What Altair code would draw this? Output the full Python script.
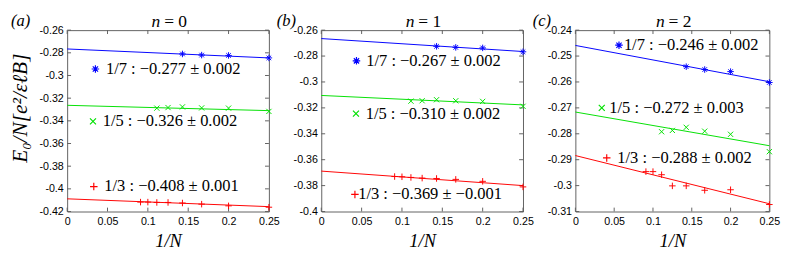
import altair as alt
import pandas as pd

# ---------------- data ----------------
invN_17 = [1/7, 1/6, 1/5, 1/4]
invN_15 = [1/9, 1/8, 1/7, 1/6, 1/5, 1/4]
invN_13 = [1/11, 1/10, 1/9, 1/8, 1/7, 1/6, 1/5, 1/4]
fit_x = [0.0, 0.25]

x_ticks = [0, 0.05, 0.1, 0.15, 0.2, 0.25]

# panel (a): n = 0
a_E17 = [-0.2810, -0.2820, -0.2823, -0.2845]
a_E15 = [-0.3288, -0.3283, -0.3277, -0.3286, -0.3288, -0.3317]
a_E13 = [-0.4117, -0.4117, -0.4120, -0.4120, -0.4125, -0.4135, -0.4150, -0.4162]
a_fit17 = [-0.2766, -0.2845]
a_fit15 = [-0.3263, -0.3310]
a_fit13 = [-0.4088, -0.4157]
a_labels = ["1/7 : \u22120.277 \u00b1 0.002", "1/5 : \u22120.326 \u00b1 0.002", "1/3 : \u22120.408 \u00b1 0.001"]
a_yticks = [-0.42, -0.40, -0.38, -0.36, -0.34, -0.32, -0.30, -0.28, -0.26]

# panel (b): n = 1
b_E17 = [-0.2725, -0.2733, -0.2737, -0.2767]
b_E15 = [-0.3148, -0.3145, -0.3137, -0.3145, -0.3150, -0.3188]
b_E13 = [-0.3730, -0.3732, -0.3737, -0.3742, -0.3745, -0.3752, -0.3767, -0.3810]
b_fit17 = [-0.2665, -0.2765]
b_fit15 = [-0.3104, -0.3177]
b_fit13 = [-0.3688, -0.3800]
b_labels = ["1/7 : \u22120.267 \u00b1 0.002", "1/5 : \u22120.310 \u00b1 0.002", "1/3 : \u22120.369 \u00b1 \u22120.001"]
b_yticks = [-0.40, -0.38, -0.36, -0.34, -0.32, -0.30, -0.28, -0.26]

# panel (c): n = 2
c_E17 = [-0.2541, -0.2552, -0.2560, -0.2602]
c_E15 = [-0.2792, -0.2787, -0.2775, -0.2790, -0.2802, -0.2869]
c_E13 = [-0.2946, -0.2946, -0.2958, -0.3001, -0.3001, -0.3018, -0.3016, -0.3073]
c_fit17 = [-0.2459, -0.2599]
c_fit15 = [-0.2716, -0.2846]
c_fit13 = [-0.2884, -0.3070]
c_labels = ["1/7 : \u22120.246 \u00b1 0.002", "1/5 : \u22120.272 \u00b1 0.003", "1/3 : \u22120.288 \u00b1 0.002"]
c_yticks = [-0.31, -0.30, -0.29, -0.28, -0.27, -0.26, -0.25, -0.24]

panel_letters = ["(a)", "(b)", "(c)"]
panel_n = ["= 0", "= 1", "= 2"]

# in-plot key anchors (data coordinates): marker x, marker y, text x
a_key_x = [0.035, 0.032, 0.033]
a_key_y = [-0.2943, -0.3405, -0.3980]
a_txt_x = [0.048, 0.044, 0.046]
b_key_x = [0.0436, 0.0430, 0.0417]
b_key_y = [-0.2837, -0.3245, -0.3868]
b_txt_x = [0.0557, 0.0550, 0.0457]
c_key_x = [0.0562, 0.0340, 0.0404]
c_key_y = [-0.2458, -0.2700, -0.2893]
c_txt_x = [0.0625, 0.0437, 0.0540]

# ---------------- styling ----------------
FRAME = "#606060"
BLUE, GREEN, RED = "#0000ff", "#00e000", "#ff0000"
SERIF = "Liberation Serif"
SANS = "Liberation Sans"
STAR = "M-1,0L1,0M0,-1L0,1M-0.7,-0.7L0.7,0.7M-0.7,0.7L0.7,-0.7"
XMARK = "M-0.8,-0.8L0.8,0.8M-0.8,0.8L0.8,-0.8"
PLUS = "M-1,0L1,0M0,-1L0,1"
H = 187
LABEL_EXPR = "replace(format(datum.value, '.2~f'), '\u2212', '-')"


def make_panel(letter, ntext, E17, E15, E13, F17, F15, F13, labels, yticks,
               key_x, key_y, txt_x, W, letter_dx, ytitle):
    xs = alt.Scale(domain=[0, 0.25], nice=False, zero=False)
    ys = alt.Scale(domain=[min(yticks), max(yticks)], nice=False, zero=False)
    xaxis = alt.Axis(values=x_ticks, labelExpr=LABEL_EXPR, title="1/N",
                     labelFlush=False, labelPadding=4, titlePadding=6)
    if ytitle:
        yaxis = alt.Axis(values=yticks, labelExpr=LABEL_EXPR, title=ytitle,
                         labelPadding=4, minExtent=30, maxExtent=30,
                         titlePadding=7, titleY=80, titleFontSize=22)
    else:
        yaxis = alt.Axis(values=yticks, labelExpr=LABEL_EXPR, title=None,
                         labelPadding=4)

    def X(f="x"):
        return alt.X(f + ":Q", scale=xs, axis=xaxis)

    def Y(f="y"):
        return alt.Y(f + ":Q", scale=ys, axis=yaxis)

    layers = []
    # inward ticks
    ytdf = pd.DataFrame({"y": yticks})
    xtdf = pd.DataFrame({"x": x_ticks})
    layers.append(alt.Chart(ytdf).mark_rule(color=FRAME, strokeWidth=1).encode(
        y=Y(), x=alt.value(0), x2=alt.value(4)))
    layers.append(alt.Chart(ytdf).mark_rule(color=FRAME, strokeWidth=1).encode(
        y=Y(), x=alt.value(W - 4), x2=alt.value(W)))
    layers.append(alt.Chart(xtdf).mark_rule(color=FRAME, strokeWidth=1).encode(
        x=X(), y=alt.value(H - 4), y2=alt.value(H)))
    layers.append(alt.Chart(xtdf).mark_rule(color=FRAME, strokeWidth=1).encode(
        x=X(), y=alt.value(0), y2=alt.value(4)))

    series = [(invN_17, E17, F17, BLUE, STAR, 45),
              (invN_15, E15, F15, GREEN, XMARK, 45),
              (invN_13, E13, F13, RED, PLUS, 45)]
    for i, (xv, ev, fv, col, shp, sz) in enumerate(series):
        layers.append(alt.Chart(pd.DataFrame({"x": fit_x, "y": fv})).mark_line(
            color=col, strokeWidth=1).encode(x=X(), y=Y()))
        layers.append(alt.Chart(pd.DataFrame({"x": xv, "y": ev})).mark_point(
            shape=shp, color=col, size=sz, filled=False, strokeWidth=1, opacity=1
        ).encode(x=X(), y=Y()))
        layers.append(alt.Chart(pd.DataFrame({"x": [key_x[i]], "y": [key_y[i]]})).mark_point(
            shape=shp, color=col, size=sz + 15, filled=False, strokeWidth=1.2, opacity=1
        ).encode(x=X(), y=Y()))
        layers.append(alt.Chart(pd.DataFrame({"x": [txt_x[i]], "y": [key_y[i]], "t": [labels[i]]})).mark_text(
            align="left", baseline="middle", font=SERIF, fontSize=17, color="black"
        ).encode(x=X(), y=Y(), text="t:N"))

    # panel title "n = k": italic n, upright rest
    layers.append(alt.Chart(pd.DataFrame({"t": ["n"]})).mark_text(
        align="right", baseline="top", font=SERIF, fontStyle="italic", fontSize=18,
        color="black").encode(text="t:N", x=alt.value(W / 2 - 8), y=alt.value(-17)))
    layers.append(alt.Chart(pd.DataFrame({"t": [ntext]})).mark_text(
        align="left", baseline="top", font=SERIF, fontSize=18,
        color="black").encode(text="t:N", x=alt.value(W / 2 - 4), y=alt.value(-17)))
    ldf = pd.DataFrame({"t": [letter]})
    layers.append(alt.Chart(ldf).mark_text(
        align="left", baseline="top", font=SERIF, fontStyle="italic", fontSize=17,
        color="black").encode(text="t:N", x=alt.value(letter_dx), y=alt.value(-17)))

    return alt.layer(*layers).properties(width=W, height=H)


pa = make_panel(panel_letters[0], panel_n[0], a_E17, a_E15, a_E13, a_fit17, a_fit15, a_fit13,
                a_labels, a_yticks, a_key_x, a_key_y, a_txt_x, 208, -58,
                "E\u2080/N[e\u00b2/\u03b5\u2113B]")
pb = make_panel(panel_letters[1], panel_n[1], b_E17, b_E15, b_E13, b_fit17, b_fit15, b_fit13,
                b_labels, b_yticks, b_key_x, b_key_y, b_txt_x, 208, -46, None)
pc = make_panel(panel_letters[2], panel_n[2], c_E17, c_E15, c_E13, c_fit17, c_fit15, c_fit13,
                c_labels, c_yticks, c_key_x, c_key_y, c_txt_x, 200, -44, None)

chart = alt.hconcat(pa, pb, pc, spacing=54, bounds="flush").properties(
    padding=0
).configure_view(stroke=FRAME, strokeWidth=1).configure_axis(
    ticks=False, domain=False, grid=False,
    labelFont=SANS, labelFontSize=11, labelColor="black",
    titleFont=SERIF, titleFontStyle="italic", titleFontWeight="normal",
    titleFontSize=19, titleColor="black"
)

chart.save("out.html", embed_options={"renderer": "svg", "actions": False})
